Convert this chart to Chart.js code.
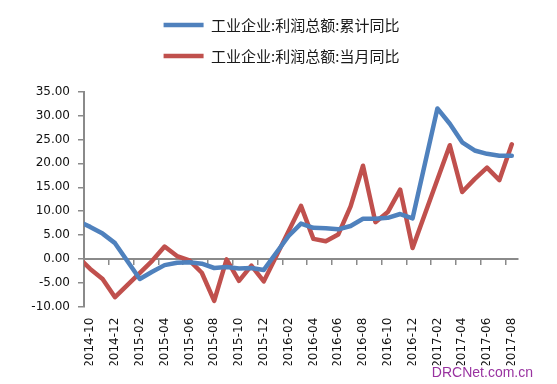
<!DOCTYPE html>
<html>
<head>
<meta charset="utf-8">
<script src="https://cdn.jsdelivr.net/npm/chart.js@4/dist/chart.umd.min.js"></script>
<style>
  html, body { margin: 0; padding: 0; background: #ffffff; }
  #wrap { width: 557px; height: 384px; }
</style>
</head>
<body>
<div id="wrap"><canvas id="c" width="557" height="384"></canvas></div>
<script>
// Monthly categories (2014-09 lies just left of the visible axis and is clipped)
const months = [
  '2014-09','2014-10','2014-11','2014-12',
  '2015-01','2015-02','2015-03','2015-04','2015-05','2015-06','2015-07','2015-08','2015-09','2015-10','2015-11','2015-12',
  '2016-01','2016-02','2016-03','2016-04','2016-05','2016-06','2016-07','2016-08','2016-09','2016-10','2016-11','2016-12',
  '2017-01','2017-02','2017-03','2017-04','2017-05','2017-06','2017-07','2017-08'
];
const tickLabels = [
  '2014-10','2014-12','2015-02','2015-04','2015-06','2015-08','2015-10','2015-12',
  '2016-02','2016-04','2016-06','2016-08','2016-10','2016-12',
  '2017-02','2017-04','2017-06','2017-08'
];
const seriesNames = ['工业企业:利润总额:累计同比', '工业企业:利润总额:当月同比'];
// 工业企业:利润总额:累计同比 (%)
const cumulative = [
  7.9, 6.7, 5.3, 3.3,
  null, -4.2, -2.7, -1.3, -0.8, -0.7, -1.0, -1.9, -1.7, -2.0, -1.9, -2.3,
  null, 4.8, 7.4, 6.5, 6.4, 6.2, 6.9, 8.4, 8.4, 8.6, 9.4, 8.5,
  null, 31.5, 28.3, 24.4, 22.7, 22.0, 21.6, 21.6
];
// 工业企业:利润总额:当月同比 (%)
const monthly = [
  0.4, -2.1, -4.2, -8.0,
  null, null, -0.4, 2.6, 0.6, -0.3, -2.9, -8.8, -0.1, -4.6, -1.4, -4.7,
  null, null, 11.1, 4.2, 3.7, 5.1, 11.0, 19.5, 7.7, 9.8, 14.5, 2.3,
  null, null, 23.8, 14.0, 16.7, 19.1, 16.5, 24.0
];
const yTicks = { min: -10, max: 35, step: 5 };
const watermark = 'DRCNet.com.cn';

const AXIS_GRAY = '#8a8a8a';
const TEXT = '#111111';
const NUM_FONT = { family: 'DejaVu Sans', size: 12 };

function lineDataset(label, data, color) {
  return {
    label: label,
    data: data,
    borderColor: color,
    backgroundColor: color,
    borderWidth: 4.5,
    pointRadius: 0,
    pointStyle: 'line',
    spanGaps: true,
    tension: 0,
    borderJoinStyle: 'round',
    borderCapStyle: 'round',
    clip: { left: 0, top: 6, right: 6, bottom: 6 },
    xAxisID: 'x', yAxisID: 'y'
  };
}

new Chart(document.getElementById('c'), {
  type: 'line',
  data: {
    labels: months,
    datasets: [
      lineDataset(seriesNames[0], cumulative, '#4F81BD'),
      lineDataset(seriesNames[1], monthly, '#C0504D')
    ]
  },
  options: {
    responsive: false,
    animation: false,
    devicePixelRatio: 1,
    layout: { padding: { left: 30, right: 24, top: 1.5, bottom: 0 } },
    plugins: {
      legend: {
        display: true,
        position: 'top',
        align: 'center',
        labels: {
          font: { family: 'Noto Sans CJK SC', size: 15 },
          color: '#1a1a1a',
          usePointStyle: true,
          pointStyle: 'line',
          pointStyleWidth: 40,
          boxHeight: 15,
          padding: 16
        }
      },
      title: {
        display: true,
        text: watermark,
        position: 'bottom',
        align: 'end',
        color: '#9933a0',
        font: { family: 'Liberation Sans', size: 14, weight: 'normal' },
        padding: { top: 0, bottom: 2 }
      },
      tooltip: { enabled: false }
    },
    scales: {
      x: {
        type: 'category',
        position: 'bottom',
        min: '2014-10',
        offset: true,
        grid: { display: false, drawTicks: false },
        border: { display: false },
        ticks: {
          autoSkip: false,
          maxRotation: 90,
          minRotation: 90,
          padding: 11,
          color: TEXT,
          font: NUM_FONT,
          callback: function (v) {
            const lab = this.getLabelForValue(v);
            return tickLabels.includes(lab) ? lab : '';
          }
        },
        afterFit: (s) => { s.height = 58.5; }
      },
      x0: {
        type: 'category',
        position: { y: 0 },
        min: '2014-10',
        offset: true,
        grid: {
          offset: true,
          drawOnChartArea: false,
          drawTicks: true,
          tickLength: 5,
          lineWidth: 1.5,
          color: (ctx) => (ctx.tick && tickLabels.includes(months[ctx.tick.value])) ? AXIS_GRAY : 'rgba(0,0,0,0)'
        },
        border: { display: true, color: AXIS_GRAY, width: 2 },
        ticks: { display: false, autoSkip: false }
      },
      xt: {
        type: 'linear',
        axis: 'x',
        position: 'top',
        display: true,
        grid: { display: false, drawTicks: false },
        border: { display: false },
        ticks: { display: false },
        afterFit: (s) => { s.height = 18.2; }
      },
      y: {
        type: 'linear',
        position: 'left',
        min: yTicks.min,
        max: yTicks.max,
        grid: {
          drawOnChartArea: false,
          drawTicks: true,
          tickLength: 6,
          lineWidth: 1.5,
          color: AXIS_GRAY
        },
        border: { display: true, color: AXIS_GRAY, width: 2 },
        ticks: {
          stepSize: yTicks.step,
          padding: 8,
          color: TEXT,
          font: NUM_FONT,
          callback: (v) => Number(v).toFixed(2)
        },
        afterFit: (s) => { s.width = 54; }
      },
      y2: {
        type: 'linear',
        axis: 'y',
        position: 'right',
        display: true,
        grid: { display: false, drawTicks: false },
        border: { display: false },
        ticks: { display: false },
        afterFit: (s) => { s.width = 15; }
      }
    }
  }
});
</script>
</body>
</html>
